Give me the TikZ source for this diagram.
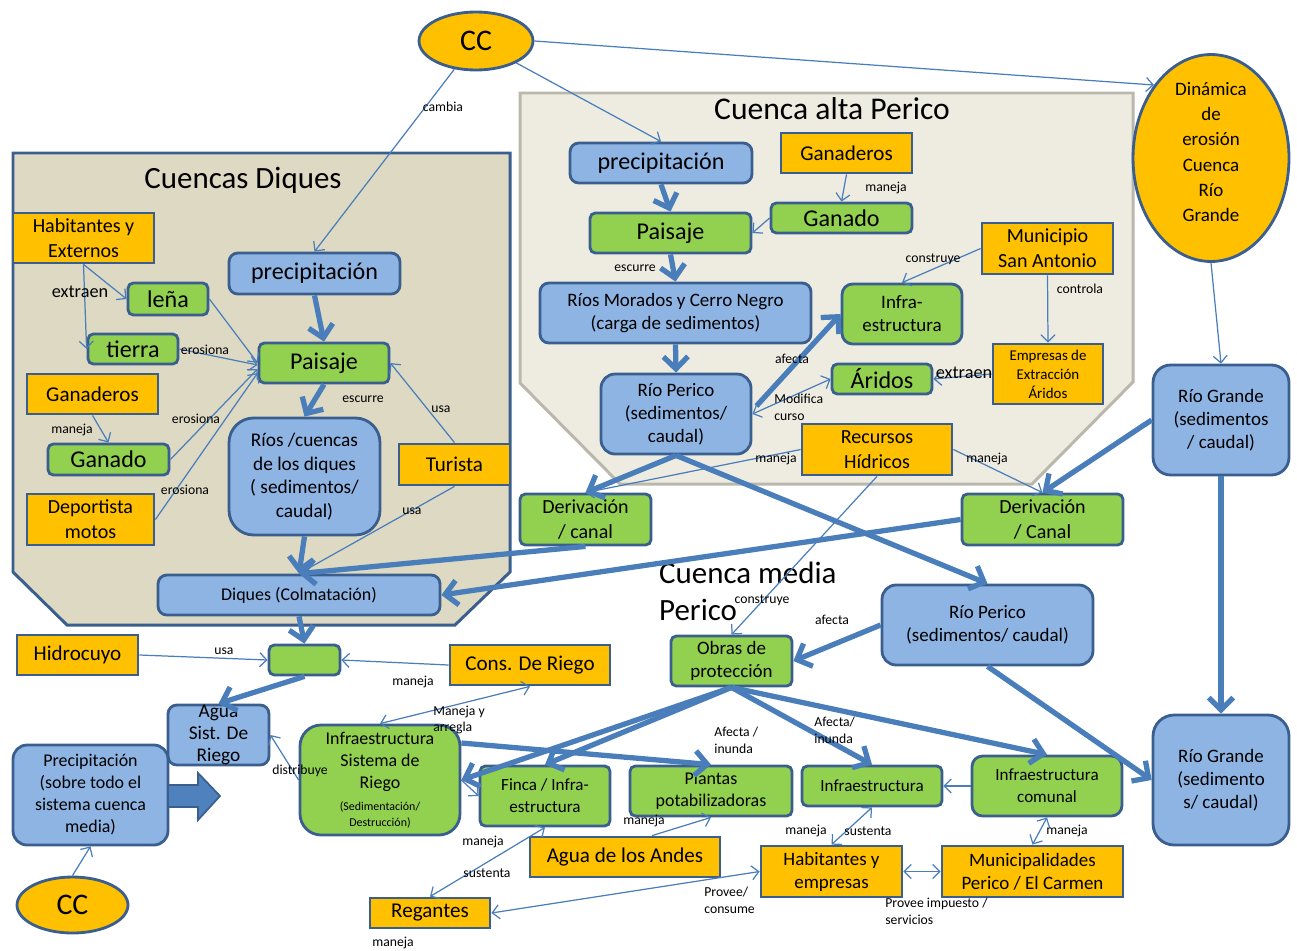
\documentclass[tikz,border=0pt]{standalone}
\usepackage{fontspec}
\setmainfont{Carlito}
\usetikzlibrary{shapes.geometric,arrows.meta,calc}

\definecolor{bluefill}{HTML}{8EB4E3}
\definecolor{greenfill}{HTML}{92D050}
\definecolor{orangefill}{HTML}{FFC000}
\definecolor{boxline}{HTML}{3A5F8F}
\definecolor{arrowline}{HTML}{4A7EBB}
\definecolor{diquesfill}{HTML}{DDD9C3}
\definecolor{altafill}{HTML}{EEECE1}
\definecolor{altaline}{HTML}{BAB7AC}
\definecolor{fatfill}{HTML}{4F81BD}

\newcommand{\fsz}[2]{\fontsize{#1}{#2}\selectfont}

\tikzset{
  barbs/.tip={Straight Barb[length=4pt,width=8pt]},
  fatbarb/.tip={Straight Barb[length=7pt,width=14pt]},
  box/.style={draw=boxline, line width=1.6pt, inner sep=1pt, align=center},
  bluebox/.style={box, fill=bluefill, rounded corners=5pt},
  greenbox/.style={box, fill=greenfill, rounded corners=3pt},
  orangebox/.style={box, fill=orangefill},
  ovalbox/.style={box, fill=orangefill, ellipse},
  conn/.style={arrowline, line width=0.7pt, -barbs},
  conntwo/.style={conn, barbs-barbs},
  fatconn/.style={arrowline, line width=3pt, -fatbarb},
  lbl/.style={inner sep=0pt, font=\fsz{7.8}{9.5}, align=left},
}

\begin{document}
\begin{tikzpicture}[x=0.02cm, y=-0.02cm]
    \useasboundingbox (0,0) rectangle (1297,950);

    % regions
    \filldraw[fill=diquesfill, draw=boxline, line width=1.7pt]
        (13,153) -- (510,153) -- (510,572) -- (455,625) -- (67,625) -- (13,572) -- cycle;
    \filldraw[fill=altafill, draw=altaline, line width=1.7pt]
        (520,93) -- (1133,93) -- (1133,382) -- (1032,484) -- (620,484) -- (520,383) -- cycle;

    \node[font=\fsz{17.6}{21}] (tdiques) at (243,180) {Cuencas Diques};
    \node[font=\fsz{18}{21}] (talta) at (832,109) {Cuenca alta Perico};
    \node[font=\fsz{17.6}{21}, align=left, anchor=west] (tmedia) at (653,591) {Cuenca media\\Perico};

    % top
    \node[ovalbox, minimum width=2.28cm, minimum height=1.16cm, font=\fsz{17}{20}] (cc1) at (476,41) {CC};
    \node[ovalbox, minimum width=3.12cm, minimum height=4.14cm, inner sep=-10pt, text depth=7pt, font=\fsz{10.8}{14.4}] (dinamica) at (1211,158) {Dinámica\\de\\erosión\\Cuenca\\Río\\Grande};

    % cuencas diques
    \node[orangebox, minimum width=2.82cm, minimum height=1cm, font=\fsz{11.4}{14}] (habext) at (83.5,238) {Habitantes y\\Externos};
    \node[greenbox, minimum width=1.6cm, minimum height=0.64cm, font=\fsz{13.7}{16}] (lena) at (168,299) {leña};
    \node[greenbox, minimum width=1.8cm, minimum height=0.6cm, font=\fsz{13.7}{16}] (tierra) at (133,349) {tierra};
    \node[bluebox, minimum width=3.42cm, minimum height=0.82cm, font=\fsz{13.7}{16}] (precipdiq) at (314.5,273.5) {precipitación};
    \node[greenbox, minimum width=2.6cm, minimum height=0.8cm, font=\fsz{13.7}{16}] (paisajediq) at (324,363) {Paisaje};
    \node[orangebox, minimum width=2.62cm, minimum height=0.8cm, font=\fsz{12}{14}] (ganaderosdiq) at (92.5,394) {Ganaderos};
    \node[greenbox, minimum width=2.42cm, minimum height=0.62cm, font=\fsz{13.7}{16}] (ganadodiq) at (108.5,459.5) {Ganado};
    \node[orangebox, minimum width=2.54cm, minimum height=1.02cm, font=\fsz{11.4}{14.2}] (deportista) at (90.5,519.5) {Deportista\\motos};
    \node[bluebox, rounded corners=14pt, minimum width=3.02cm, minimum height=2.34cm, font=\fsz{11}{13.5}] (riosdiq) at (304.5,476.5) {Ríos /cuencas\\de los diques\\( sedimentos/\\caudal)};
    \node[orangebox, minimum width=2.22cm, minimum height=0.82cm, font=\fsz{12}{14}] (turista) at (454.5,464.5) {Turista};
    \node[bluebox, minimum width=5.64cm, minimum height=0.8cm, font=\fsz{10.2}{12}] (diques) at (299,595) {Diques (Colmatación)};

    % cuenca alta
    \node[bluebox, minimum width=3.64cm, minimum height=0.8cm, font=\fsz{13.7}{16}] (precipalta) at (661,163) {precipitación};
    \node[orangebox, minimum width=2.62cm, minimum height=0.8cm, font=\fsz{12}{14}] (ganaderosalta) at (846.5,153) {Ganaderos};
    \node[greenbox, minimum width=2.82cm, minimum height=0.6cm, font=\fsz{13.7}{16}] (ganadoalta) at (841.5,218) {Ganado};
    \node[greenbox, minimum width=3.22cm, minimum height=0.8cm, font=\fsz{13.7}{16}] (paisajealta) at (670.5,233) {Paisaje};
    \node[bluebox, minimum width=5.42cm, minimum height=1.2cm, font=\fsz{10.8}{13.1}] (riosmorados) at (675.5,313) {Ríos Morados y Cerro Negro\\(carga de sedimentos)};
    \node[greenbox, rounded corners=6pt, minimum width=2.4cm, minimum height=1.2cm, font=\fsz{10.8}{13.1}] (infraalta) at (902,314) {Infra-\\estructura};
    \node[orangebox, minimum width=2.62cm, minimum height=1.02cm, font=\fsz{11.4}{14.2}] (munsanantonio) at (1047.5,248.5) {Municipio\\San Antonio};
    \node[orangebox, minimum width=2.2cm, minimum height=1.2cm, font=\fsz{8.5}{10.8}] (empresas) at (1048,374) {Empresas de\\Extracción\\Áridos};
    \node[greenbox, minimum width=2cm, minimum height=0.6cm, font=\fsz{13.7}{16}] (aridos) at (882,379) {Áridos};
    \node[bluebox, rounded corners=8pt, minimum width=3cm, minimum height=1.6cm, font=\fsz{10.8}{13.1}] (riopericoalta) at (676,414) {Río Perico\\(sedimentos/\\caudal)};
    \node[orangebox, minimum width=3cm, minimum height=1.02cm, font=\fsz{11.4}{14.2}] (recursos) at (877,449.5) {Recursos\\Hídricos};

    % middle and right
    \node[greenbox, minimum width=2.62cm, minimum height=1.02cm, font=\fsz{11.4}{14.2}] (deriv1) at (585.5,519.5) {Derivación\\/ canal};
    \node[greenbox, minimum width=3.22cm, minimum height=1.02cm, font=\fsz{11.4}{14.2}] (deriv2) at (1042.5,519.5) {Derivación\\/ Canal};
    \node[bluebox, rounded corners=10pt, minimum width=2.72cm, minimum height=2.2cm, font=\fsz{10.8}{13.1}] (riogrande1) at (1221,420) {Río Grande\\(sedimentos\\/ caudal)};
    \node[bluebox, rounded corners=12pt, minimum width=2.72cm, minimum height=2.6cm, font=\fsz{10.8}{13.1}] (riogrande2) at (1221,780) {Río Grande\\(sedimento\\s/ caudal)};
    \node[bluebox, rounded corners=8pt, minimum width=4.22cm, minimum height=1.6cm, font=\fsz{10.8}{13.1}] (riopericomed) at (987.5,625) {Río Perico\\(sedimentos/ caudal)};
    \node[greenbox, minimum width=2.42cm, minimum height=1cm, font=\fsz{10.8}{13.1}] (obras) at (731.5,661) {Obras de\\protección};

    % bottom
    \node[orangebox, minimum width=2.42cm, minimum height=0.8cm, font=\fsz{12}{14}] (hidrocuyo) at (77.5,655) {Hidrocuyo};
    \node[greenbox, minimum width=1.42cm, minimum height=0.6cm] (canal) at (304.5,660) {};
    \node[orangebox, minimum width=3.2cm, minimum height=0.8cm, font=\fsz{12}{14}] (consriego) at (530,665) {Cons. De Riego};
    \node[bluebox, minimum width=2.02cm, minimum height=1.2cm, inner sep=0pt, font=\fsz{11}{12.5}] (aguasist) at (218.5,735) {Agua\\Sist. De\\Riego};
    \node[bluebox, rounded corners=8pt, minimum width=3.1cm, minimum height=2cm, font=\fsz{10.2}{12.5}] (precip2) at (90.5,795) {Precipitación\\(sobre todo el\\sistema cuenca\\media)};
    \node[ovalbox, minimum width=2.22cm, minimum height=1.12cm, font=\fsz{17}{20}] (cc2) at (72.5,905) {CC};
    \node[greenbox, rounded corners=12pt, minimum width=3.2cm, minimum height=2.2cm, font=\fsz{10.2}{12.5}] (infrariego) at (380,780) {Infraestructura\\Sistema de\\Riego\\{\fsz{6.8}{9}(Sedimentación/}\\[-3.5pt]{\fsz{6.8}{9}Destrucción)}};
    \node[greenbox, minimum width=2.6cm, minimum height=1.2cm, font=\fsz{9.7}{12.5}] (finca) at (545,796) {Finca / Infra-\\estructura};
    \node[greenbox, minimum width=3.24cm, minimum height=1cm, font=\fsz{10.2}{12.5}] (plantas) at (711,791) {Plantas\\potabilizadoras};
    \node[greenbox, minimum width=2.8cm, minimum height=0.8cm, font=\fsz{9.7}{12}] (infraestr) at (872,786) {Infraestructura};
    \node[greenbox, rounded corners=6pt, minimum width=3cm, minimum height=1.2cm, font=\fsz{9.7}{12.5}] (infracomunal) at (1047,786) {Infraestructura\\comunal};
    \node[orangebox, minimum width=3.8cm, minimum height=0.8cm, font=\fsz{12}{14}] (aguaandes) at (625,857) {Agua de los Andes};
    \node[orangebox, minimum width=2.82cm, minimum height=1.02cm, font=\fsz{10.8}{13.1}] (habemp) at (831.5,871.5) {Habitantes y\\empresas};
    \node[orangebox, minimum width=3.62cm, minimum height=1.02cm, font=\fsz{10.8}{13.1}] (municip) at (1032.5,871.5) {Municipalidades\\Perico / El Carmen};
    \node[orangebox, minimum width=2.4cm, minimum height=0.6cm, font=\fsz{12}{14}] (regantes) at (430,913) {Regantes};

    \filldraw[fill=fatfill, draw=boxline, line width=1pt]
        (168,785) -- (198,785) -- (198,773) -- (220,796) -- (198,820) -- (198,807) -- (168,807) -- cycle;

    % thin connectors
    \draw[conn] (cc1) -- (precipdiq.north);
    \draw[conn] (cc1) -- (precipalta.north);
    \draw[conn] (cc1.east) -- (dinamica.128);
    \draw[conn] (habext.south) -- (lena.west);
    \draw[conn] (habext.south) -- (tierra.west);
    \draw[conn] (lena.east) -- (paisajediq.west);
    \draw[conn] (tierra.east) -- ($(paisajediq.west)+(0,2)$);
    \draw[conn] (ganadodiq.east) -- ($(paisajediq.west)+(0,6)$);
    \draw[conn] (deportista.east) -- ($(paisajediq.west)+(0,10)$);
    \draw[conn] (ganaderosdiq.south) -- (ganadodiq.north);
    \draw[conn] (turista.north) -- (paisajediq.east);
    \draw[conn] (turista.south) -- (diques.north);
    \draw[conn] (ganaderosalta.south) -- (ganadoalta.north);
    \draw[conn] (ganadoalta.west) -- (paisajealta.east);
    \draw[conn] (munsanantonio.west) -- (infraalta.north);
    \draw[conn] (munsanantonio.south) -- (empresas.north);
    \draw[conn] (empresas.west) -- (aridos.east);
    \draw[conntwo] (riopericoalta.east) -- (aridos.west);
    \draw[conn] (recursos.west) -- (deriv1.north);
    \draw[conn] (recursos.east) -- (deriv2.north);
    \draw[conn] (recursos.south) -- (obras.north);
    \draw[conn] (dinamica.south) -- (riogrande1.north);
    \draw[conn] (hidrocuyo.east) -- (canal.west);
    \draw[conn] (consriego.west) -- (canal.east);
    \draw[conntwo] (infrariego.north) -- (consriego.south);
    \draw[conn] (infrariego.west) -- (aguasist.east);
    \draw[conn] (cc2.north) -- (precip2.south);
    \draw[conn] (infrariego.east) -- (finca.west);
    \draw[conntwo] (finca.south) -- (regantes.north);
    \draw[conn] ($(aguaandes.north)+(27,0)$) -- (plantas.south);
    \draw[conntwo] (habemp.west) -- (regantes.east);
    \draw[conntwo] (habemp.north) -- (infraestr.south);
    \draw[conntwo] (habemp.east) -- (municip.west);
    \draw[conn] (infracomunal.west) -- (infraestr.east);
    \draw[conntwo] (infracomunal.south) -- (municip.north);

    % thick connectors
    \draw[fatconn] (precipdiq.south) -- (paisajediq.north);
    \draw[fatconn] (paisajediq.south) -- (riosdiq.north);
    \draw[fatconn] (riosdiq.south) -- (diques.north);
    \draw[fatconn] (diques.south) -- (canal.north);
    \draw[fatconn] (canal.south) -- (aguasist.north);
    \draw[fatconn] (deriv1.south) -- (diques.north);
    \draw[fatconn] (deriv2.west) -- (diques.east);
    \draw[fatconn] (precipalta.south) -- (paisajealta.north);
    \draw[fatconn] (paisajealta.south) -- (riosmorados.north);
    \draw[fatconn] (riosmorados.south) -- (riopericoalta.north);
    \draw[fatconn] ($(riopericoalta.east)+(4,-8)$) -- (infraalta.west);
    \draw[fatconn] (riopericoalta.south) -- (deriv1.north);
    \draw[fatconn] (riopericoalta.south) -- (riopericomed.north);
    \draw[fatconn] (riopericomed.west) -- (obras.east);
    \draw[fatconn] (riopericomed.south) -- (riogrande2.west);
    \draw[fatconn] (riogrande1.west) -- (deriv2.north);
    \draw[fatconn] (riogrande1.south) -- (riogrande2.north);
    \draw[fatconn] (obras.south) -- (infrariego.east);
    \draw[fatconn] (obras.south) -- (finca.north);
    \draw[fatconn] ($(infrariego.east)+(0,-37)$) -- (plantas.north);
    \draw[fatconn] (obras.south) -- (infraestr.north);
    \draw[fatconn] (obras.south) -- (infracomunal.north);

    % labels
    \node[lbl] (lcambia) at (443,107) {cambia};
    \node[lbl, font=\fsz{10.4}{12}] (lextraen1) at (80,292) {extraen};
    \node[lbl] (lerosiona1) at (205,350) {erosiona};
    \node[lbl] (lmaneja1) at (72,430) {maneja};
    \node[lbl] (lerosiona2) at (196,419) {erosiona};
    \node[lbl] (lescurre1) at (363,399) {escurre};
    \node[lbl] (lusa1) at (441,409) {usa};
    \node[lbl] (lerosiona3) at (185,490) {erosiona};
    \node[lbl] (lusa2) at (412,511) {usa};
    \node[lbl] (lmaneja2) at (886,188) {maneja};
    \node[lbl] (lescurre2) at (635,268) {escurre};
    \node[lbl] (lconstruye1) at (933,259) {construye};
    \node[lbl] (lcontrola) at (1080,289) {controla};
    \node[lbl] (lafecta1) at (792,359) {afecta};
    \node[lbl, font=\fsz{10.4}{12}] (lextraen2) at (964,373) {extraen};
    \node[lbl, anchor=west] (lmodifica) at (774,407) {Modifica\\curso};
    \node[lbl] (lmaneja3) at (776,459) {maneja};
    \node[lbl] (lmaneja4) at (987,459) {maneja};
    \node[lbl] (lconstruye2) at (762,600) {construye};
    \node[lbl] (lafecta2) at (832,620) {afecta};
    \node[lbl] (lusa3) at (224,651) {usa};
    \node[lbl] (lmaneja5) at (413,682) {maneja};
    \node[lbl, anchor=west] (lmanejay) at (433,720) {Maneja y\\arregla};
    \node[lbl] (ldistribuye) at (300,771) {distribuye};
    \node[lbl, anchor=west] (lafecta3) at (714,740) {Afecta /\\inunda};
    \node[lbl, anchor=west] (lafecta4) at (814,730) {Afecta/\\inunda};
    \node[lbl] (lmaneja6) at (644,821) {maneja};
    \node[lbl] (lmaneja7) at (483,842) {maneja};
    \node[lbl] (lsustenta1) at (487,873) {sustenta};
    \node[lbl] (lmaneja8) at (393,943) {maneja};
    \node[lbl] (lmaneja9) at (806,831) {maneja};
    \node[lbl] (lsustenta2) at (868,831) {sustenta};
    \node[lbl] (lmaneja10) at (1067,831) {maneja};
    \node[lbl, anchor=west] (lprovee) at (704,900) {Provee/\\consume};
    \node[lbl, anchor=west] (lprovee2) at (885,911) {Provee impuesto /\\servicios};
\end{tikzpicture}
\end{document}
